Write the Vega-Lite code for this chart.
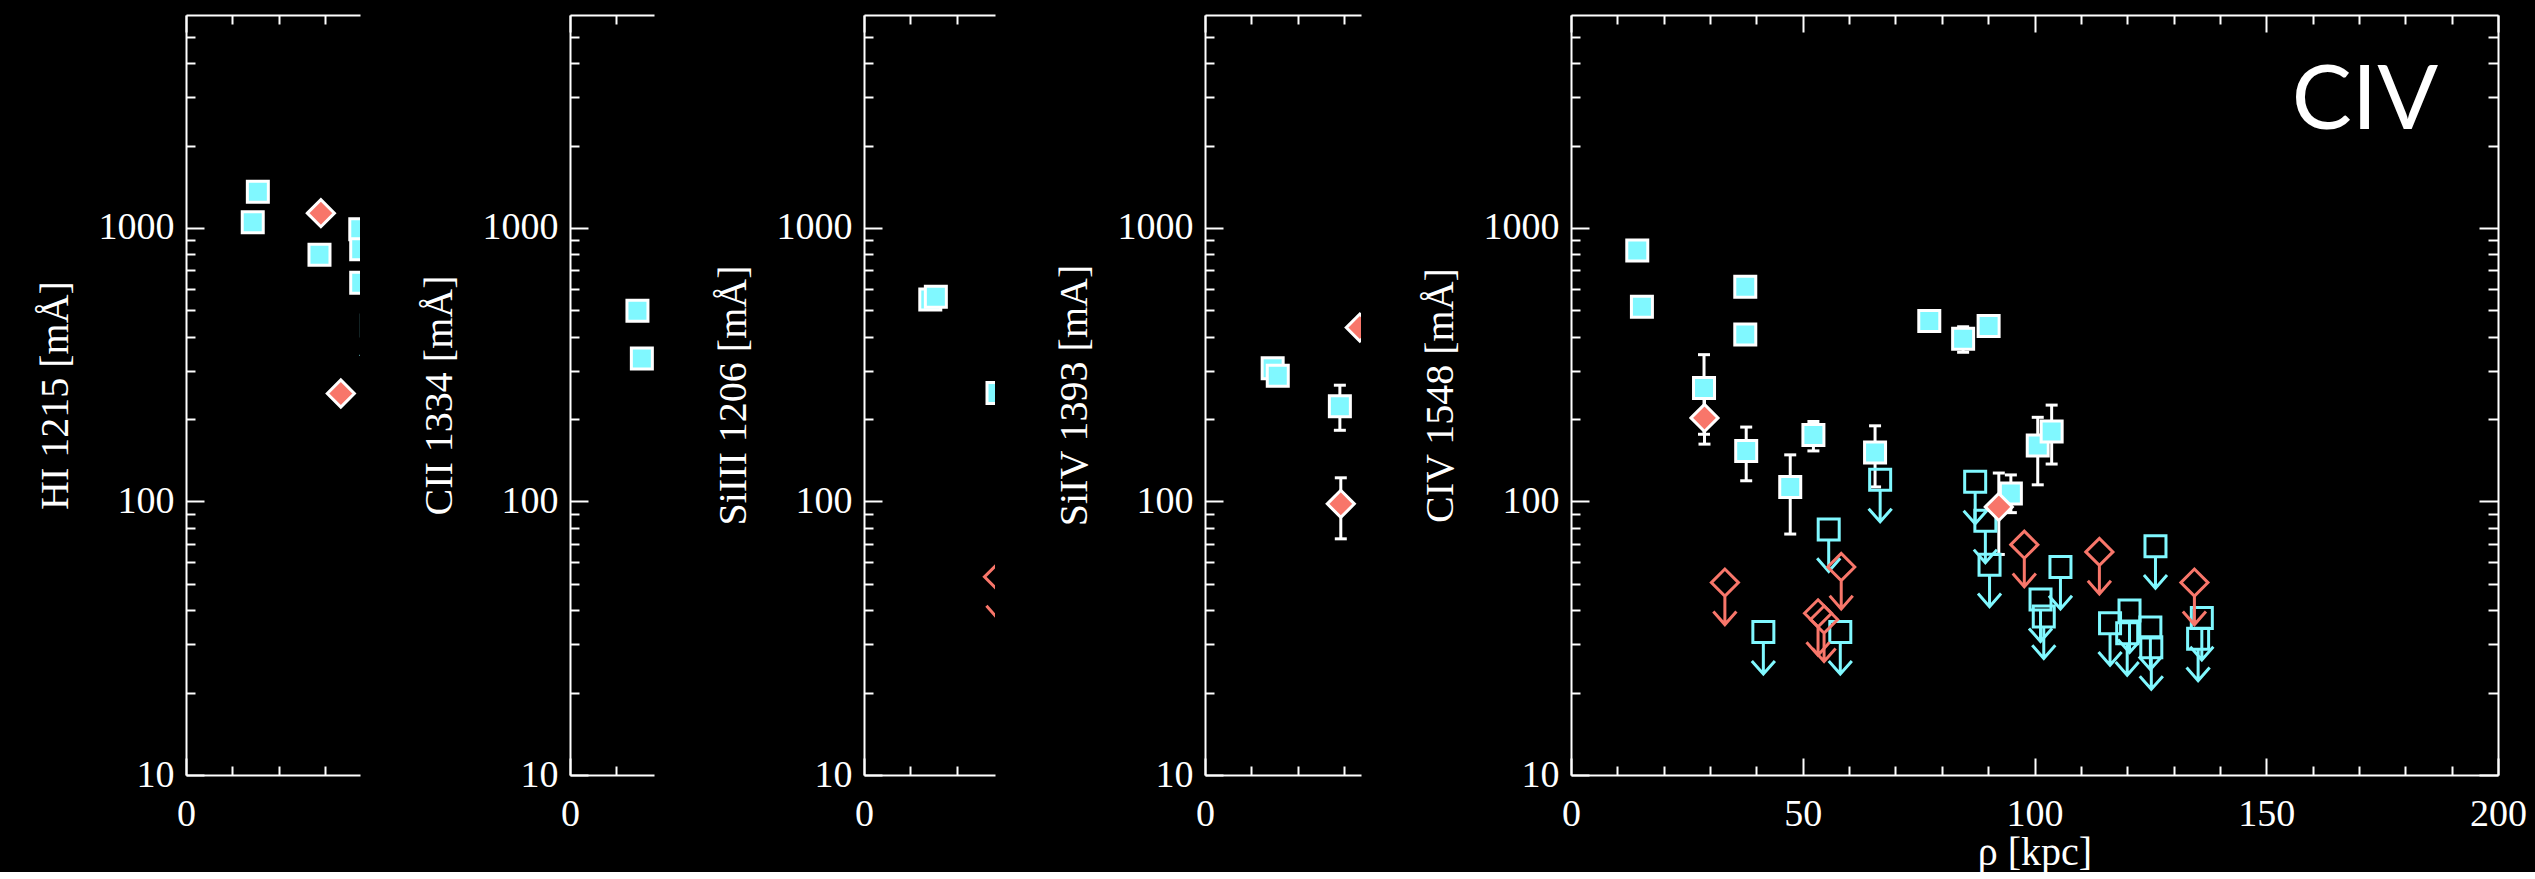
{
  "$schema": "https://vega.github.io/schema/vega-lite/v6.json",
  "background": "black",
  "padding": {"left": 35, "right": 8, "top": 14, "bottom": 0},
  "bounds": "flush",
  "spacing": 210,
  "datasets": {
    "pts": [
      {"ion": "HI", "rho": 14.4, "W": 1049, "kind": "det", "sym": "sq"},
      {"ion": "HI", "rho": 15.5, "W": 1354, "kind": "det", "sym": "sq"},
      {"ion": "HI", "rho": 28.8, "W": 798, "kind": "det", "sym": "sq"},
      {"ion": "HI", "rho": 29.1, "W": 1132, "kind": "det", "sym": "di"},
      {"ion": "HI", "rho": 33.4, "W": 248, "kind": "det", "sym": "di"},
      {"ion": "HI", "rho": 37.6, "W": 988, "kind": "det", "sym": "sq"},
      {"ion": "HI", "rho": 37.8, "W": 836, "kind": "det", "sym": "sq"},
      {"ion": "HI", "rho": 37.8, "W": 630, "kind": "det", "sym": "sq"},
      {"ion": "HI", "rho": 40.1, "W": 440, "kind": "lim", "sym": "sq"},
      {"ion": "CII", "rho": 14.55, "W": 498, "kind": "det", "sym": "sq"},
      {"ion": "CII", "rho": 15.5, "W": 333, "kind": "det", "sym": "sq"},
      {"ion": "SiIII", "rho": 14.3, "W": 547, "kind": "det", "sym": "sq"},
      {"ion": "SiIII", "rho": 15.5, "W": 560, "kind": "det", "sym": "sq"},
      {"ion": "SiIII", "rho": 28.8, "W": 249, "kind": "det", "sym": "sq"},
      {"ion": "SiIII", "rho": 28.9, "W": 53, "kind": "lim", "sym": "di"},
      {"ion": "SiIV", "rho": 14.6, "W": 307, "kind": "det", "sym": "sq"},
      {"ion": "SiIV", "rho": 15.7, "W": 288, "kind": "det", "sym": "sq"},
      {"ion": "SiIV", "rho": 29.1, "W": 223, "kind": "det", "sym": "sq", "lo": 182, "hi": 266},
      {"ion": "SiIV", "rho": 29.3, "W": 98, "kind": "det", "sym": "di", "lo": 73, "hi": 122},
      {"ion": "SiIV", "rho": 33.4, "W": 432, "kind": "det", "sym": "di"},
      {"ion": "CIV", "rho": 14.3, "W": 826, "kind": "det", "sym": "sq"},
      {"ion": "CIV", "rho": 15.3, "W": 515, "kind": "det", "sym": "sq"},
      {"ion": "CIV", "rho": 28.7, "W": 260, "kind": "det", "sym": "sq", "lo": 176, "hi": 344},
      {"ion": "CIV", "rho": 37.6, "W": 609, "kind": "det", "sym": "sq"},
      {"ion": "CIV", "rho": 37.6, "W": 408, "kind": "det", "sym": "sq"},
      {"ion": "CIV", "rho": 37.8, "W": 153, "kind": "det", "sym": "sq", "lo": 119, "hi": 187},
      {"ion": "CIV", "rho": 47.3, "W": 113, "kind": "det", "sym": "sq", "lo": 76, "hi": 148},
      {"ion": "CIV", "rho": 52.3, "W": 175, "kind": "det", "sym": "sq", "lo": 153, "hi": 196},
      {"ion": "CIV", "rho": 65.6, "W": 151, "kind": "det", "sym": "sq", "lo": 113, "hi": 189},
      {"ion": "CIV", "rho": 77.3, "W": 457, "kind": "det", "sym": "sq"},
      {"ion": "CIV", "rho": 84.6, "W": 393, "kind": "det", "sym": "sq", "lo": 351, "hi": 435},
      {"ion": "CIV", "rho": 90.1, "W": 438, "kind": "det", "sym": "sq"},
      {"ion": "CIV", "rho": 94.9, "W": 107, "kind": "det", "sym": "sq", "lo": 91, "hi": 125},
      {"ion": "CIV", "rho": 100.7, "W": 160, "kind": "det", "sym": "sq", "lo": 115, "hi": 203},
      {"ion": "CIV", "rho": 103.7, "W": 180, "kind": "det", "sym": "sq", "lo": 137, "hi": 225},
      {"ion": "CIV", "rho": 28.8, "W": 202, "kind": "det", "sym": "di", "lo": 162, "hi": 241},
      {"ion": "CIV", "rho": 92.3, "W": 95.5, "kind": "det", "sym": "di", "lo": 64, "hi": 127},
      {"ion": "CIV", "rho": 41.5, "W": 33.3, "kind": "lim", "sym": "sq"},
      {"ion": "CIV", "rho": 55.6, "W": 79, "kind": "lim", "sym": "sq"},
      {"ion": "CIV", "rho": 58.1, "W": 33.3, "kind": "lim", "sym": "sq"},
      {"ion": "CIV", "rho": 66.7, "W": 120, "kind": "lim", "sym": "sq"},
      {"ion": "CIV", "rho": 87.2, "W": 118, "kind": "lim", "sym": "sq"},
      {"ion": "CIV", "rho": 89.4, "W": 85, "kind": "lim", "sym": "sq"},
      {"ion": "CIV", "rho": 90.3, "W": 58.7, "kind": "lim", "sym": "sq"},
      {"ion": "CIV", "rho": 101.3, "W": 43.8, "kind": "lim", "sym": "sq"},
      {"ion": "CIV", "rho": 102.0, "W": 38, "kind": "lim", "sym": "sq"},
      {"ion": "CIV", "rho": 105.6, "W": 57.6, "kind": "lim", "sym": "sq"},
      {"ion": "CIV", "rho": 116.3, "W": 35.9, "kind": "lim", "sym": "sq"},
      {"ion": "CIV", "rho": 120.5, "W": 39.9, "kind": "lim", "sym": "sq"},
      {"ion": "CIV", "rho": 120.0, "W": 33, "kind": "lim", "sym": "sq"},
      {"ion": "CIV", "rho": 126.1, "W": 68.6, "kind": "lim", "sym": "sq"},
      {"ion": "CIV", "rho": 125.0, "W": 34.6, "kind": "lim", "sym": "sq"},
      {"ion": "CIV", "rho": 125.2, "W": 29.3, "kind": "lim", "sym": "sq"},
      {"ion": "CIV", "rho": 136.1, "W": 37.5, "kind": "lim", "sym": "sq"},
      {"ion": "CIV", "rho": 135.3, "W": 31.5, "kind": "lim", "sym": "sq"},
      {"ion": "CIV", "rho": 33.2, "W": 50.5, "kind": "lim", "sym": "di"},
      {"ion": "CIV", "rho": 53.3, "W": 39, "kind": "lim", "sym": "di"},
      {"ion": "CIV", "rho": 54.6, "W": 37, "kind": "lim", "sym": "di"},
      {"ion": "CIV", "rho": 58.3, "W": 57.6, "kind": "lim", "sym": "di"},
      {"ion": "CIV", "rho": 97.8, "W": 69.5, "kind": "lim", "sym": "di"},
      {"ion": "CIV", "rho": 114.0, "W": 65.4, "kind": "lim", "sym": "di"},
      {"ion": "CIV", "rho": 134.5, "W": 50.5, "kind": "lim", "sym": "di"}
    ],
    "lab": [{"ion": "CIV", "label": "CIV", "rho": 171.3, "W": 2895}]
  },
  "hconcat": [
    {
      "width": 174, "height": 760,
      "data": {"name": "pts"},
      "resolve": {"axis": {"x": "independent", "y": "independent"}, "scale": {"shape": "independent"}},
      "layer": [
        {"transform": [{"filter": "datum.ion === 'HI' && datum.lo != null"}],
         "mark": {"type": "rule", "color": "white", "strokeWidth": 3, "clip": true},
         "encoding": {
           "x": {"field": "rho", "type": "quantitative", "scale": {"domain": [0, 37.54], "nice": false, "zero": false}, "axis": {"orient": "bottom", "values": [0], "format": "d", "tickSize": -17, "labelPadding": 37, "domain": true, "title": null}},
           "y": {"field": "lo", "type": "quantitative", "scale": {"type": "log", "domain": [10, 6000], "nice": false}, "axis": {"orient": "left", "values": [10, 100, 1000], "format": "d", "tickSize": -18, "labelPadding": 30, "domain": true, "title": "HI 1215 [mÅ]", "titlePadding": 23}},
           "y2": {"field": "hi"}}},
        {"transform": [{"filter": "datum.ion === 'HI' && datum.lo != null"}],
         "mark": {"type": "tick", "orient": "horizontal", "color": "white", "thickness": 3, "size": 12, "opacity": 1, "clip": true},
         "encoding": {
           "x": {"field": "rho", "type": "quantitative", "scale": {"domain": [0, 37.54], "nice": false, "zero": false}, "axis": {"orient": "bottom", "values": [10, 20, 30], "labels": false, "tickSize": -9, "domain": false, "title": null}},
           "y": {"field": "lo", "type": "quantitative", "scale": {"type": "log", "domain": [10, 6000], "nice": false}, "axis": {"orient": "left", "values": [20, 30, 40, 50, 60, 70, 80, 90, 200, 300, 400, 500, 600, 700, 800, 900, 2000, 3000, 4000, 5000], "labels": false, "tickSize": -9, "domain": false, "title": null}}}},
        {"transform": [{"filter": "datum.ion === 'HI' && datum.lo != null"}],
         "mark": {"type": "tick", "orient": "horizontal", "color": "white", "thickness": 3, "size": 12, "opacity": 1, "clip": true},
         "encoding": {
           "x": {"field": "rho", "type": "quantitative", "scale": {"domain": [0, 37.54], "nice": false, "zero": false}, "axis": {"orient": "top", "values": [0], "labels": false, "tickSize": -17, "domain": true, "title": null}},
           "y": {"field": "hi", "type": "quantitative", "scale": {"type": "log", "domain": [10, 6000], "nice": false}, "axis": null}}},
        {"transform": [{"filter": "datum.ion === 'HI' && datum.kind === 'lim'"}],
         "mark": {"type": "point", "filled": false, "strokeWidth": 3, "opacity": 1, "size": 441, "clip": true},
         "encoding": {
           "x": {"field": "rho", "type": "quantitative", "scale": {"domain": [0, 37.54], "nice": false, "zero": false}, "axis": {"orient": "top", "values": [10, 20, 30], "labels": false, "tickSize": -9, "domain": false, "title": null}},
           "y": {"field": "W", "type": "quantitative", "scale": {"type": "log", "domain": [10, 6000], "nice": false}, "axis": null},
           "shape": {"field": "sym", "type": "nominal", "scale": {"domain": ["sq", "di"], "range": ["M-1,-1H1V1H-1ZM0,1V4M-1.1,2.75L0,4L1.1,2.75", "M-1.29,0L0,-1.29L1.29,0L0,1.29ZM0,1.29V4M-1.1,2.75L0,4L1.1,2.75"]}, "legend": null},
           "stroke": {"field": "sym", "type": "nominal", "scale": {"domain": ["sq", "di"], "range": ["#80f8ff", "#f8766a"]}, "legend": null}}},
        {"transform": [{"filter": "datum.ion === 'HI' && datum.kind === 'det'"}],
         "mark": {"type": "point", "filled": true, "stroke": "white", "strokeWidth": 3, "opacity": 1, "size": 441, "clip": true},
         "encoding": {
           "x": {"field": "rho", "type": "quantitative", "scale": {"domain": [0, 37.54], "nice": false, "zero": false}, "axis": null},
           "y": {"field": "W", "type": "quantitative", "scale": {"type": "log", "domain": [10, 6000], "nice": false}, "axis": null},
           "shape": {"field": "sym", "type": "nominal", "scale": {"domain": ["sq", "di"], "range": ["M-1,-1H1V1H-1Z", "M-1.29,0L0,-1.29L1.29,0L0,1.29Z"]}, "legend": null},
           "fill": {"field": "sym", "type": "nominal", "scale": {"domain": ["sq", "di"], "range": ["#80f8ff", "#f8766a"]}, "legend": null}}}
      ]
    },
    {
      "width": 84, "height": 760,
      "data": {"name": "pts"},
      "resolve": {"axis": {"x": "independent", "y": "independent"}, "scale": {"shape": "independent"}},
      "layer": [
        {"transform": [{"filter": "datum.ion === 'CII' && datum.lo != null"}],
         "mark": {"type": "rule", "color": "white", "strokeWidth": 3, "clip": true},
         "encoding": {
           "x": {"field": "rho", "type": "quantitative", "scale": {"domain": [0, 18.12], "nice": false, "zero": false}, "axis": {"orient": "bottom", "values": [0], "format": "d", "tickSize": -17, "labelPadding": 37, "domain": true, "title": null}},
           "y": {"field": "lo", "type": "quantitative", "scale": {"type": "log", "domain": [10, 6000], "nice": false}, "axis": {"orient": "left", "values": [10, 100, 1000], "format": "d", "tickSize": -18, "labelPadding": 30, "domain": true, "title": "CII 1334 [mÅ]", "titlePadding": 23}},
           "y2": {"field": "hi"}}},
        {"transform": [{"filter": "datum.ion === 'CII' && datum.lo != null"}],
         "mark": {"type": "tick", "orient": "horizontal", "color": "white", "thickness": 3, "size": 12, "opacity": 1, "clip": true},
         "encoding": {
           "x": {"field": "rho", "type": "quantitative", "scale": {"domain": [0, 18.12], "nice": false, "zero": false}, "axis": {"orient": "bottom", "values": [10], "labels": false, "tickSize": -9, "domain": false, "title": null}},
           "y": {"field": "lo", "type": "quantitative", "scale": {"type": "log", "domain": [10, 6000], "nice": false}, "axis": {"orient": "left", "values": [20, 30, 40, 50, 60, 70, 80, 90, 200, 300, 400, 500, 600, 700, 800, 900, 2000, 3000, 4000, 5000], "labels": false, "tickSize": -9, "domain": false, "title": null}}}},
        {"transform": [{"filter": "datum.ion === 'CII' && datum.lo != null"}],
         "mark": {"type": "tick", "orient": "horizontal", "color": "white", "thickness": 3, "size": 12, "opacity": 1, "clip": true},
         "encoding": {
           "x": {"field": "rho", "type": "quantitative", "scale": {"domain": [0, 18.12], "nice": false, "zero": false}, "axis": {"orient": "top", "values": [0], "labels": false, "tickSize": -17, "domain": true, "title": null}},
           "y": {"field": "hi", "type": "quantitative", "scale": {"type": "log", "domain": [10, 6000], "nice": false}, "axis": null}}},
        {"transform": [{"filter": "datum.ion === 'CII' && datum.kind === 'lim'"}],
         "mark": {"type": "point", "filled": false, "strokeWidth": 3, "opacity": 1, "size": 441, "clip": true},
         "encoding": {
           "x": {"field": "rho", "type": "quantitative", "scale": {"domain": [0, 18.12], "nice": false, "zero": false}, "axis": {"orient": "top", "values": [10], "labels": false, "tickSize": -9, "domain": false, "title": null}},
           "y": {"field": "W", "type": "quantitative", "scale": {"type": "log", "domain": [10, 6000], "nice": false}, "axis": null},
           "shape": {"field": "sym", "type": "nominal", "scale": {"domain": ["sq", "di"], "range": ["M-1,-1H1V1H-1ZM0,1V4M-1.1,2.75L0,4L1.1,2.75", "M-1.29,0L0,-1.29L1.29,0L0,1.29ZM0,1.29V4M-1.1,2.75L0,4L1.1,2.75"]}, "legend": null},
           "stroke": {"field": "sym", "type": "nominal", "scale": {"domain": ["sq", "di"], "range": ["#80f8ff", "#f8766a"]}, "legend": null}}},
        {"transform": [{"filter": "datum.ion === 'CII' && datum.kind === 'det'"}],
         "mark": {"type": "point", "filled": true, "stroke": "white", "strokeWidth": 3, "opacity": 1, "size": 441, "clip": true},
         "encoding": {
           "x": {"field": "rho", "type": "quantitative", "scale": {"domain": [0, 18.12], "nice": false, "zero": false}, "axis": null},
           "y": {"field": "W", "type": "quantitative", "scale": {"type": "log", "domain": [10, 6000], "nice": false}, "axis": null},
           "shape": {"field": "sym", "type": "nominal", "scale": {"domain": ["sq", "di"], "range": ["M-1,-1H1V1H-1Z", "M-1.29,0L0,-1.29L1.29,0L0,1.29Z"]}, "legend": null},
           "fill": {"field": "sym", "type": "nominal", "scale": {"domain": ["sq", "di"], "range": ["#80f8ff", "#f8766a"]}, "legend": null}}}
      ]
    },
    {
      "width": 131, "height": 760,
      "data": {"name": "pts"},
      "resolve": {"axis": {"x": "independent", "y": "independent"}, "scale": {"shape": "independent"}},
      "layer": [
        {"transform": [{"filter": "datum.ion === 'SiIII' && datum.lo != null"}],
         "mark": {"type": "rule", "color": "white", "strokeWidth": 3, "clip": true},
         "encoding": {
           "x": {"field": "rho", "type": "quantitative", "scale": {"domain": [0, 28.26], "nice": false, "zero": false}, "axis": {"orient": "bottom", "values": [0], "format": "d", "tickSize": -17, "labelPadding": 37, "domain": true, "title": null}},
           "y": {"field": "lo", "type": "quantitative", "scale": {"type": "log", "domain": [10, 6000], "nice": false}, "axis": {"orient": "left", "values": [10, 100, 1000], "format": "d", "tickSize": -18, "labelPadding": 30, "domain": true, "title": "SiIII 1206 [mÅ]", "titlePadding": 23}},
           "y2": {"field": "hi"}}},
        {"transform": [{"filter": "datum.ion === 'SiIII' && datum.lo != null"}],
         "mark": {"type": "tick", "orient": "horizontal", "color": "white", "thickness": 3, "size": 12, "opacity": 1, "clip": true},
         "encoding": {
           "x": {"field": "rho", "type": "quantitative", "scale": {"domain": [0, 28.26], "nice": false, "zero": false}, "axis": {"orient": "bottom", "values": [10, 20], "labels": false, "tickSize": -9, "domain": false, "title": null}},
           "y": {"field": "lo", "type": "quantitative", "scale": {"type": "log", "domain": [10, 6000], "nice": false}, "axis": {"orient": "left", "values": [20, 30, 40, 50, 60, 70, 80, 90, 200, 300, 400, 500, 600, 700, 800, 900, 2000, 3000, 4000, 5000], "labels": false, "tickSize": -9, "domain": false, "title": null}}}},
        {"transform": [{"filter": "datum.ion === 'SiIII' && datum.lo != null"}],
         "mark": {"type": "tick", "orient": "horizontal", "color": "white", "thickness": 3, "size": 12, "opacity": 1, "clip": true},
         "encoding": {
           "x": {"field": "rho", "type": "quantitative", "scale": {"domain": [0, 28.26], "nice": false, "zero": false}, "axis": {"orient": "top", "values": [0], "labels": false, "tickSize": -17, "domain": true, "title": null}},
           "y": {"field": "hi", "type": "quantitative", "scale": {"type": "log", "domain": [10, 6000], "nice": false}, "axis": null}}},
        {"transform": [{"filter": "datum.ion === 'SiIII' && datum.kind === 'lim'"}],
         "mark": {"type": "point", "filled": false, "strokeWidth": 3, "opacity": 1, "size": 441, "clip": true},
         "encoding": {
           "x": {"field": "rho", "type": "quantitative", "scale": {"domain": [0, 28.26], "nice": false, "zero": false}, "axis": {"orient": "top", "values": [10, 20], "labels": false, "tickSize": -9, "domain": false, "title": null}},
           "y": {"field": "W", "type": "quantitative", "scale": {"type": "log", "domain": [10, 6000], "nice": false}, "axis": null},
           "shape": {"field": "sym", "type": "nominal", "scale": {"domain": ["sq", "di"], "range": ["M-1,-1H1V1H-1ZM0,1V4M-1.1,2.75L0,4L1.1,2.75", "M-1.29,0L0,-1.29L1.29,0L0,1.29ZM0,1.29V4M-1.1,2.75L0,4L1.1,2.75"]}, "legend": null},
           "stroke": {"field": "sym", "type": "nominal", "scale": {"domain": ["sq", "di"], "range": ["#80f8ff", "#f8766a"]}, "legend": null}}},
        {"transform": [{"filter": "datum.ion === 'SiIII' && datum.kind === 'det'"}],
         "mark": {"type": "point", "filled": true, "stroke": "white", "strokeWidth": 3, "opacity": 1, "size": 441, "clip": true},
         "encoding": {
           "x": {"field": "rho", "type": "quantitative", "scale": {"domain": [0, 28.26], "nice": false, "zero": false}, "axis": null},
           "y": {"field": "W", "type": "quantitative", "scale": {"type": "log", "domain": [10, 6000], "nice": false}, "axis": null},
           "shape": {"field": "sym", "type": "nominal", "scale": {"domain": ["sq", "di"], "range": ["M-1,-1H1V1H-1Z", "M-1.29,0L0,-1.29L1.29,0L0,1.29Z"]}, "legend": null},
           "fill": {"field": "sym", "type": "nominal", "scale": {"domain": ["sq", "di"], "range": ["#80f8ff", "#f8766a"]}, "legend": null}}}
      ]
    },
    {
      "width": 156, "height": 760,
      "data": {"name": "pts"},
      "resolve": {"axis": {"x": "independent", "y": "independent"}, "scale": {"shape": "independent"}},
      "layer": [
        {"transform": [{"filter": "datum.ion === 'SiIV' && datum.lo != null"}],
         "mark": {"type": "rule", "color": "white", "strokeWidth": 3, "clip": true},
         "encoding": {
           "x": {"field": "rho", "type": "quantitative", "scale": {"domain": [0, 33.66], "nice": false, "zero": false}, "axis": {"orient": "bottom", "values": [0], "format": "d", "tickSize": -17, "labelPadding": 37, "domain": true, "title": null}},
           "y": {"field": "lo", "type": "quantitative", "scale": {"type": "log", "domain": [10, 6000], "nice": false}, "axis": {"orient": "left", "values": [10, 100, 1000], "format": "d", "tickSize": -18, "labelPadding": 30, "domain": true, "title": "SiIV 1393 [mA]", "titlePadding": 23}},
           "y2": {"field": "hi"}}},
        {"transform": [{"filter": "datum.ion === 'SiIV' && datum.lo != null"}],
         "mark": {"type": "tick", "orient": "horizontal", "color": "white", "thickness": 3, "size": 12, "opacity": 1, "clip": true},
         "encoding": {
           "x": {"field": "rho", "type": "quantitative", "scale": {"domain": [0, 33.66], "nice": false, "zero": false}, "axis": {"orient": "bottom", "values": [10, 20, 30], "labels": false, "tickSize": -9, "domain": false, "title": null}},
           "y": {"field": "lo", "type": "quantitative", "scale": {"type": "log", "domain": [10, 6000], "nice": false}, "axis": {"orient": "left", "values": [20, 30, 40, 50, 60, 70, 80, 90, 200, 300, 400, 500, 600, 700, 800, 900, 2000, 3000, 4000, 5000], "labels": false, "tickSize": -9, "domain": false, "title": null}}}},
        {"transform": [{"filter": "datum.ion === 'SiIV' && datum.lo != null"}],
         "mark": {"type": "tick", "orient": "horizontal", "color": "white", "thickness": 3, "size": 12, "opacity": 1, "clip": true},
         "encoding": {
           "x": {"field": "rho", "type": "quantitative", "scale": {"domain": [0, 33.66], "nice": false, "zero": false}, "axis": {"orient": "top", "values": [0], "labels": false, "tickSize": -17, "domain": true, "title": null}},
           "y": {"field": "hi", "type": "quantitative", "scale": {"type": "log", "domain": [10, 6000], "nice": false}, "axis": null}}},
        {"transform": [{"filter": "datum.ion === 'SiIV' && datum.kind === 'lim'"}],
         "mark": {"type": "point", "filled": false, "strokeWidth": 3, "opacity": 1, "size": 441, "clip": true},
         "encoding": {
           "x": {"field": "rho", "type": "quantitative", "scale": {"domain": [0, 33.66], "nice": false, "zero": false}, "axis": {"orient": "top", "values": [10, 20, 30], "labels": false, "tickSize": -9, "domain": false, "title": null}},
           "y": {"field": "W", "type": "quantitative", "scale": {"type": "log", "domain": [10, 6000], "nice": false}, "axis": null},
           "shape": {"field": "sym", "type": "nominal", "scale": {"domain": ["sq", "di"], "range": ["M-1,-1H1V1H-1ZM0,1V4M-1.1,2.75L0,4L1.1,2.75", "M-1.29,0L0,-1.29L1.29,0L0,1.29ZM0,1.29V4M-1.1,2.75L0,4L1.1,2.75"]}, "legend": null},
           "stroke": {"field": "sym", "type": "nominal", "scale": {"domain": ["sq", "di"], "range": ["#80f8ff", "#f8766a"]}, "legend": null}}},
        {"transform": [{"filter": "datum.ion === 'SiIV' && datum.kind === 'det'"}],
         "mark": {"type": "point", "filled": true, "stroke": "white", "strokeWidth": 3, "opacity": 1, "size": 441, "clip": true},
         "encoding": {
           "x": {"field": "rho", "type": "quantitative", "scale": {"domain": [0, 33.66], "nice": false, "zero": false}, "axis": null},
           "y": {"field": "W", "type": "quantitative", "scale": {"type": "log", "domain": [10, 6000], "nice": false}, "axis": null},
           "shape": {"field": "sym", "type": "nominal", "scale": {"domain": ["sq", "di"], "range": ["M-1,-1H1V1H-1Z", "M-1.29,0L0,-1.29L1.29,0L0,1.29Z"]}, "legend": null},
           "fill": {"field": "sym", "type": "nominal", "scale": {"domain": ["sq", "di"], "range": ["#80f8ff", "#f8766a"]}, "legend": null}}}
      ]
    },
    {
      "width": 927, "height": 760,
      "data": {"name": "pts"},
      "resolve": {"axis": {"x": "independent", "y": "independent"}, "scale": {"shape": "independent"}},
      "layer": [
        {"transform": [{"filter": "datum.ion === 'CIV' && datum.lo != null"}],
         "mark": {"type": "rule", "color": "white", "strokeWidth": 3, "clip": true},
         "encoding": {
           "x": {"field": "rho", "type": "quantitative", "scale": {"domain": [0, 200], "nice": false, "zero": false}, "axis": {"orient": "bottom", "values": [0, 50, 100, 150, 200], "format": "d", "tickSize": -17, "labelPadding": 37, "domain": true, "title": "ρ [kpc]", "titlePadding": -1}},
           "y": {"field": "lo", "type": "quantitative", "scale": {"type": "log", "domain": [10, 6000], "nice": false}, "axis": {"orient": "left", "values": [10, 100, 1000], "format": "d", "tickSize": -18, "labelPadding": 30, "domain": true, "title": "CIV 1548 [mÅ]", "titlePadding": 23}},
           "y2": {"field": "hi"}}},
        {"transform": [{"filter": "datum.ion === 'CIV' && datum.lo != null"}],
         "mark": {"type": "tick", "orient": "horizontal", "color": "white", "thickness": 3, "size": 12, "opacity": 1, "clip": true},
         "encoding": {
           "x": {"field": "rho", "type": "quantitative", "scale": {"domain": [0, 200], "nice": false, "zero": false}, "axis": {"orient": "bottom", "values": [10, 20, 30, 40, 60, 70, 80, 90, 110, 120, 130, 140, 160, 170, 180, 190], "labels": false, "tickSize": -9, "domain": false, "title": null}},
           "y": {"field": "lo", "type": "quantitative", "scale": {"type": "log", "domain": [10, 6000], "nice": false}, "axis": {"orient": "left", "values": [20, 30, 40, 50, 60, 70, 80, 90, 200, 300, 400, 500, 600, 700, 800, 900, 2000, 3000, 4000, 5000], "labels": false, "tickSize": -9, "domain": false, "title": null}}}},
        {"transform": [{"filter": "datum.ion === 'CIV' && datum.lo != null"}],
         "mark": {"type": "tick", "orient": "horizontal", "color": "white", "thickness": 3, "size": 12, "opacity": 1, "clip": true},
         "encoding": {
           "x": {"field": "rho", "type": "quantitative", "scale": {"domain": [0, 200], "nice": false, "zero": false}, "axis": {"orient": "top", "values": [0, 50, 100, 150, 200], "labels": false, "tickSize": -17, "domain": true, "title": null}},
           "y": {"field": "hi", "type": "quantitative", "scale": {"type": "log", "domain": [10, 6000], "nice": false}, "axis": {"orient": "right", "values": [10, 100, 1000], "labels": false, "tickSize": -19, "domain": true, "title": null}}}},
        {"transform": [{"filter": "datum.ion === 'CIV' && datum.kind === 'lim'"}],
         "mark": {"type": "point", "filled": false, "strokeWidth": 3, "opacity": 1, "size": 441, "clip": true},
         "encoding": {
           "x": {"field": "rho", "type": "quantitative", "scale": {"domain": [0, 200], "nice": false, "zero": false}, "axis": {"orient": "top", "values": [10, 20, 30, 40, 60, 70, 80, 90, 110, 120, 130, 140, 160, 170, 180, 190], "labels": false, "tickSize": -9, "domain": false, "title": null}},
           "y": {"field": "W", "type": "quantitative", "scale": {"type": "log", "domain": [10, 6000], "nice": false}, "axis": {"orient": "right", "values": [20, 30, 40, 50, 60, 70, 80, 90, 200, 300, 400, 500, 600, 700, 800, 900, 2000, 3000, 4000, 5000], "labels": false, "tickSize": -10, "domain": false, "title": null}},
           "shape": {"field": "sym", "type": "nominal", "scale": {"domain": ["sq", "di"], "range": ["M-1,-1H1V1H-1ZM0,1V4M-1.1,2.75L0,4L1.1,2.75", "M-1.29,0L0,-1.29L1.29,0L0,1.29ZM0,1.29V4M-1.1,2.75L0,4L1.1,2.75"]}, "legend": null},
           "stroke": {"field": "sym", "type": "nominal", "scale": {"domain": ["sq", "di"], "range": ["#80f8ff", "#f8766a"]}, "legend": null}}},
        {"transform": [{"filter": "datum.ion === 'CIV' && datum.kind === 'det'"}],
         "mark": {"type": "point", "filled": true, "stroke": "white", "strokeWidth": 3, "opacity": 1, "size": 441, "clip": true},
         "encoding": {
           "x": {"field": "rho", "type": "quantitative", "scale": {"domain": [0, 200], "nice": false, "zero": false}, "axis": null},
           "y": {"field": "W", "type": "quantitative", "scale": {"type": "log", "domain": [10, 6000], "nice": false}, "axis": null},
           "shape": {"field": "sym", "type": "nominal", "scale": {"domain": ["sq", "di"], "range": ["M-1,-1H1V1H-1Z", "M-1.29,0L0,-1.29L1.29,0L0,1.29Z"]}, "legend": null},
           "fill": {"field": "sym", "type": "nominal", "scale": {"domain": ["sq", "di"], "range": ["#80f8ff", "#f8766a"]}, "legend": null}}},
        {"data": {"name": "lab"},
         "mark": {"type": "text", "font": "Lato", "fontSize": 90, "color": "white", "align": "center", "baseline": "middle", "clip": true},
         "encoding": {
           "x": {"field": "rho", "type": "quantitative", "scale": {"domain": [0, 200], "nice": false, "zero": false}, "axis": null},
           "y": {"field": "W", "type": "quantitative", "scale": {"type": "log", "domain": [10, 6000], "nice": false}, "axis": null},
           "text": {"field": "label"}}}
      ]
    }
  ],
  "config": {
    "view": {"stroke": null},
    "axis": {"labelFont": "Liberation Serif", "labelFontSize": 38, "labelColor": "white", "titleFont": "Liberation Serif", "titleFontSize": 40, "titleColor": "white", "titleFontWeight": "normal", "domainColor": "white", "domainWidth": 2, "tickColor": "white", "tickWidth": 2, "grid": false, "labelFlush": false, "labelOverlap": false, "labelBound": false}
  }
}
